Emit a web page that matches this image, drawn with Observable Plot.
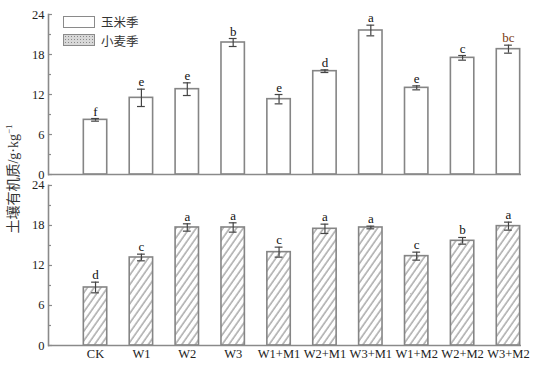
<!DOCTYPE html>
<html><head><meta charset="utf-8">
<script src="https://cdn.jsdelivr.net/npm/d3@7"></script>
<script src="https://cdn.jsdelivr.net/npm/@observablehq/plot@0.6"></script>
<style>
body{margin:0;background:#fff;}
#wrap{position:relative;width:539px;height:368px;}
#ylab{position:absolute;left:13px;top:179px;transform:translate(-50%,-50%) rotate(-90deg);white-space:nowrap;font:14px "Noto Sans CJK SC";line-height:16px;color:#333;}
#ylab .lat{font-family:"Liberation Serif",serif;font-size:14px;}
.lg{position:absolute;left:63px;height:13px;line-height:13px;display:flex;align-items:center;font:12.5px "Noto Sans CJK SC";color:#333;}
.sw{width:30px;height:10px;border:1.5px solid #8a8a8a;margin-right:6px;}
</style></head>
<body><div id="wrap">
<div id="ylab">土壤有机质<span class="lat">/g·kg<sup style="font-size:9px;line-height:9px">−1</sup></span></div>
<div class="lg" style="top:15px"><div class="sw" style="background:#fff"></div>玉米季</div>
<div class="lg" style="top:33.5px"><div class="sw" style="background-color:#d8d8d8;background-image:radial-gradient(#8a8a8a 0.7px, transparent 0.9px);background-size:3px 3px"></div>小麦季</div>
</div>
<script>
const categories = ["CK","W1","W2","W3","W1+M1","W2+M1","W3+M1","W1+M2","W2+M2","W3+M2"];
const seasons = ["玉米季","小麦季"];
const maizeValues  = [8.2, 11.5, 12.8, 19.8, 11.3, 15.5, 21.6, 13.0, 17.5, 18.8];
const maizeErrors  = [0.2, 1.3, 0.95, 0.6, 0.7, 0.2, 0.8, 0.3, 0.35, 0.6];
const maizeLetters = ["f","e","e","b","e","d","a","e","c","bc"];
const wheatValues  = [8.7, 13.2, 17.7, 17.7, 14.0, 17.5, 17.7, 13.4, 15.7, 17.9];
const wheatErrors  = [0.8, 0.5, 0.55, 0.7, 0.75, 0.7, 0.2, 0.6, 0.5, 0.6];
const wheatLetters = ["d","c","a","a","c","a","a","c","b","a"];
const yTicks = [0, 6, 12, 18, 24];
const yMinorTicks = [3, 9, 15, 21];

const maize = categories.map((c, i) => ({season: seasons[0], cat: c, value: maizeValues[i], err: maizeErrors[i], letter: maizeLetters[i]}));
const wheat = categories.map((c, i) => ({season: seasons[1], cat: c, value: wheatValues[i], err: wheatErrors[i], letter: wheatLetters[i]}));
const all = maize.concat(wheat);

const svg = Plot.plot({
  width: 539, height: 368,
  marginLeft: 48, marginRight: 18, marginTop: 14, marginBottom: 23,
  style: {fontFamily: "'Liberation Serif', 'Times New Roman', serif", fontSize: "13px", color: "#222", background: "#fff"},
  x: {domain: categories, range: [48, 555], paddingInner: 0.49, paddingOuter: 0.77, round: false},
  y: {domain: [0, 24]},
  fy: {domain: seasons, paddingInner: 0.064, paddingOuter: 0, round: false, axis: null},
  marks: [
    Plot.barY(maize, {x: "cat", y: "value", fy: "season", fill: "#fff", stroke: "#858585", strokeWidth: 1.6}),
    Plot.barY(wheat, {x: "cat", y: "value", fy: "season", fill: "url(#hatch)", stroke: "#858585", strokeWidth: 1.6}),
    Plot.ruleX(all, {x: "cat", y1: d => d.value - d.err, y2: d => d.value + d.err, fy: "season", stroke: "#444", strokeWidth: 1.2}),
    Plot.tickY(all, {x: "cat", y: d => d.value + d.err, fy: "season", stroke: "#444", strokeWidth: 1.2, insetLeft: 7.8, insetRight: 7.8}),
    Plot.tickY(all, {x: "cat", y: d => d.value - d.err, fy: "season", stroke: "#444", strokeWidth: 1.2, insetLeft: 7.8, insetRight: 7.8}),
    Plot.text(all, {x: "cat", y: d => d.value + d.err, fy: "season", text: "letter", lineAnchor: "bottom", dy: -3, fontSize: 13,
      fill: d => d.letter === "bc" ? "#7a3a12" : "#111"}),
    Plot.ruleY([0], {stroke: "#8a8a8a", strokeWidth: 1.6}),
    Plot.frame({anchor: "left", stroke: "#8a8a8a", strokeWidth: 1.6}),
    Plot.tickY(yTicks, {y: d => d, stroke: "#8a8a8a", strokeWidth: 1.2, insetRight: 469}),
    Plot.tickY(yMinorTicks, {y: d => d, stroke: "#8a8a8a", strokeWidth: 1.2, insetRight: 470}),
    Plot.axisY({ticks: yTicks, tickSize: 0, tickPadding: 4, label: null, fontSize: 12.5}),
    Plot.axisX({tickSize: 0, tickPadding: 4, label: null, fontSize: 12.5})
  ]
});

const defs = d3.select(svg).insert("defs", ":first-child");
const pat = defs.append("pattern").attr("id", "hatch").attr("patternUnits", "userSpaceOnUse")
  .attr("width", 5.5).attr("height", 5.5).attr("patternTransform", "rotate(35)");
pat.append("rect").attr("width", 5.5).attr("height", 5.5).attr("fill", "#fff");
pat.append("line").attr("x1", 1).attr("y1", 0).attr("x2", 1).attr("y2", 5.5).attr("stroke", "#8a8a8a").attr("stroke-width", 1.1);

svg.style.position = "absolute";
svg.style.left = "0px";
svg.style.top = "0px";
const wrap = document.getElementById("wrap");
wrap.insertBefore(svg, wrap.firstChild);
</script>
</body></html>
